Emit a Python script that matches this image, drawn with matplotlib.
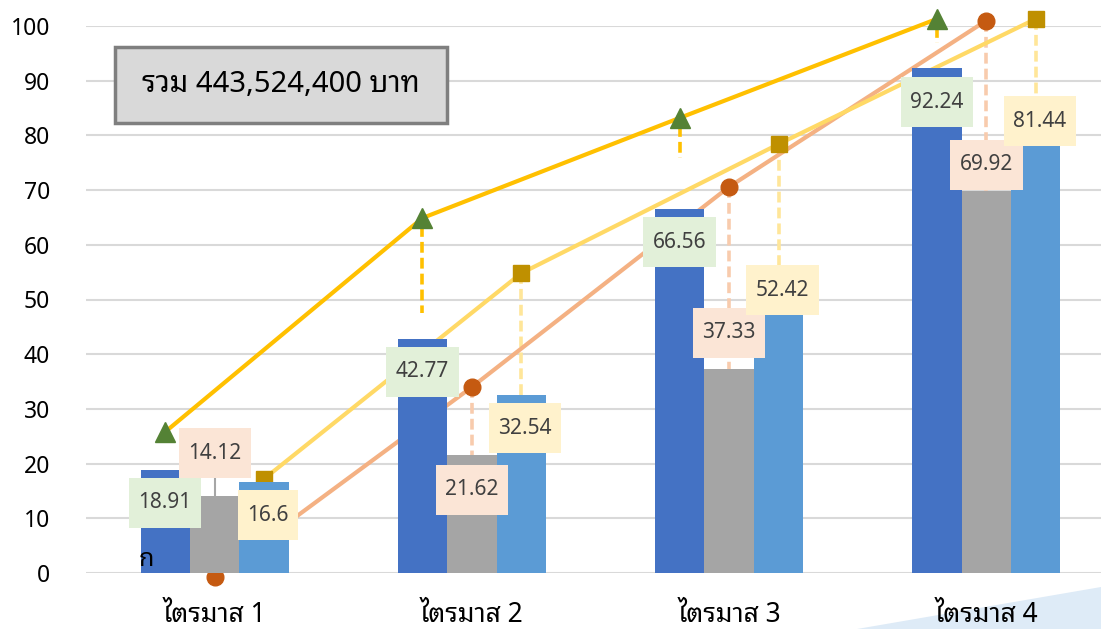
import matplotlib
matplotlib.use('Agg')
import matplotlib.pyplot as plt
from matplotlib.patches import Polygon, Rectangle
from matplotlib.transforms import IdentityTransform
import numpy as np

plt.rcParams['font.family'] = ['Noto Sans Thai Looped', 'DejaVu Sans']

# data
quarters = ['ไตรมาส 1', 'ไตรมาส 2', 'ไตรมาส 3', 'ไตรมาส 4']
bar_blue = [18.91, 42.77, 66.56, 92.24]
bar_gray = [14.12, 21.62, 37.33, 69.92]
bar_light = [16.6, 32.54, 52.42, 81.44]
line_tri = [25.8, 64.9, 83.2, 101.3]
line_circ = [-0.7, 34.0, 70.6, 101.0]
line_sq = [17.2, 54.8, 78.4, 101.3]
tri_drop_end = [25.8, 47.5, 75.9, 96.9]
total_text = 'รวม 443,524,400 บาท'
yticks = list(range(0, 101, 10))

# label centres (y in data units) for the bar value labels
lab_y_blue = [12.8, 36.8, 60.5, 86.1]
lab_y_gray = [21.9, 15.2, 43.9, 74.6]
lab_y_light = [10.6, 26.5, 51.7, 82.6]

fig = plt.figure(figsize=(11.01, 6.29), dpi=100)
ax = fig.add_axes([86 / 1101, 56 / 629, 1029 / 1101, 547 / 629])

x = np.arange(len(quarters))
w = 0.192
off = [-w, 0, w]

# grid
for t in yticks:
    ax.axhline(t, color='#D9D9D9', lw=1.5, zorder=0.5)

# lines with markers (drawn under the bars)
ax.plot(x + off[0], line_tri, color='#FFC000', lw=3, marker='^', ms=14,
        mfc='#548235', mec='#548235', zorder=2, clip_on=False)
ax.plot(x + off[1], line_circ, color='#F4B183', lw=3, marker='o', ms=12,
        mfc='#C55A11', mec='#C55A11', zorder=2, clip_on=False)
ax.plot(x + off[2], line_sq, color='#FFD966', lw=3, marker='s', ms=11,
        mfc='#BF9000', mec='#BF9000', zorder=2, clip_on=False)

# dashed drop lines
dash = (0, (3, 1.4))
for i in range(len(quarters)):
    if tri_drop_end[i] < line_tri[i]:
        ax.plot([x[i] + off[0]] * 2, [line_tri[i] - 1.5, tri_drop_end[i]],
                color='#FFC000', lw=2.6, ls=dash, zorder=1.8)
    if line_circ[i] > bar_gray[i]:
        ax.plot([x[i] + off[1]] * 2, [line_circ[i], bar_gray[i]],
                color='#F8CBAD', lw=2.6, ls=dash, zorder=1.8)
    if line_sq[i] > bar_light[i] + 1:
        ax.plot([x[i] + off[2]] * 2, [line_sq[i], bar_light[i]],
                color='#FFE699', lw=2.6, ls=dash, zorder=1.8)

# bars
ax.bar(x + off[0], bar_blue, w, color='#4472C4', zorder=3)
ax.bar(x + off[1], bar_gray, w, color='#A5A5A5', zorder=3)
ax.bar(x + off[2], bar_light, w, color='#5B9BD5', zorder=3)

# leader for the first gray label
ax.plot([x[0] + off[1]] * 2, [bar_gray[0], lab_y_gray[0] - 4], color='#A6A6A6',
        lw=1.5, zorder=3.5)

ax.set_xlim(-0.5, 3.5)
ax.set_ylim(0, 100)
ax.set_yticks(yticks)
ax.set_yticklabels([str(t) for t in yticks], fontsize=16.5, color='#000000')
ax.set_xticks(x)
ax.set_xticklabels(quarters, fontsize=19, color='#000000')
ax.tick_params(axis='y', length=0, pad=26)
ax.tick_params(axis='x', length=0, pad=20)
for s in ax.spines.values():
    s.set_visible(False)

# value labels, boxes sized after the text
series = [(bar_blue, lab_y_blue, off[0], '#E2F0D9'),
          (bar_gray, lab_y_gray, off[1], '#FBE5D6'),
          (bar_light, lab_y_light, off[2], '#FFF2CC')]
labels = []
for vals, ys, o, bg in series:
    for i, v in enumerate(vals):
        xo = o * 1.08 if o > 0 else o
        t = ax.text(x[i] + xo, ys[i], f'{v:g}', ha='center', va='center',
                    fontsize=15, color='#404040', zorder=5)
        labels.append((t, bg))

# small thai character near first group
ax.text(-0.295, 2.4, 'ก', fontsize=18, color='#000000', zorder=5,
        ha='left', va='center')

# total box
fig.patches.append(Rectangle((115 / 1101, 506 / 629), 332 / 1101, 76 / 629,
                             transform=fig.transFigure, fc='#D9D9D9',
                             ec='#7F7F7F', lw=2.5, zorder=5))
fig.text(281 / 1101, 544 / 629, total_text, ha='center', va='center',
         fontsize=21, fontweight='medium', color='#000000', zorder=6)

# decoration at bottom right
fig.patches.append(Polygon([[857 / 1101, 0], [1, 42 / 629], [1, 0]], closed=True,
                           transform=fig.transFigure, fc='#DEEBF7', ec='none',
                           zorder=-1))

r = fig.canvas.get_renderer()
for t, bg in labels:
    bb = t.get_window_extent(r)
    cx, cy = ax.transData.transform(t.get_position())
    bw = bb.width + 19
    ax.add_patch(Rectangle((cx - bw / 2, cy - 25), bw, 50, transform=IdentityTransform(),
                           fc=bg, ec='none', zorder=4.5))

fig.savefig('out.png', dpi=100)
